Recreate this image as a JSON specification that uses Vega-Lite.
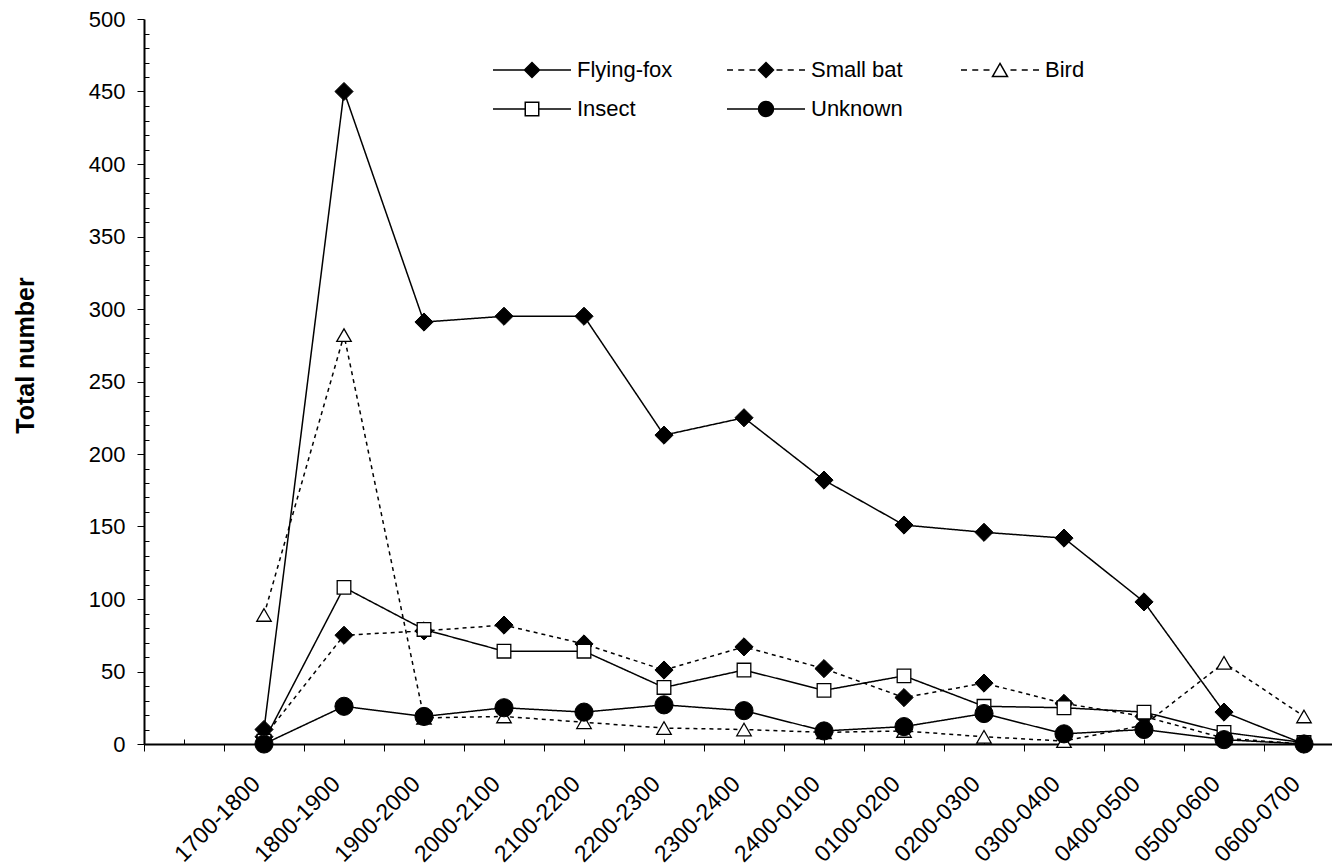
{
  "$schema": "https://vega.github.io/schema/vega-lite/v6.json",
  "width": 1188,
  "height": 725,
  "autosize": {"type": "none"},
  "padding": {"left": 144, "top": 19, "right": 0, "bottom": 124},
  "background": "white",
  "config": {
    "font": "Liberation Sans",
    "view": {"stroke": null},
    "axis": {"labelFont": "Liberation Sans", "titleFont": "Liberation Sans", "labelColor": "black", "titleColor": "black", "tickColor": "black", "domainColor": "black", "grid": false}
  },
  "data": {
    "values": [
      {"t": "1700-1800", "s": "Flying-fox", "n": 10},
      {"t": "1800-1900", "s": "Flying-fox", "n": 450},
      {"t": "1900-2000", "s": "Flying-fox", "n": 291},
      {"t": "2000-2100", "s": "Flying-fox", "n": 295},
      {"t": "2100-2200", "s": "Flying-fox", "n": 295},
      {"t": "2200-2300", "s": "Flying-fox", "n": 213},
      {"t": "2300-2400", "s": "Flying-fox", "n": 225},
      {"t": "2400-0100", "s": "Flying-fox", "n": 182},
      {"t": "0100-0200", "s": "Flying-fox", "n": 151},
      {"t": "0200-0300", "s": "Flying-fox", "n": 146},
      {"t": "0300-0400", "s": "Flying-fox", "n": 142},
      {"t": "0400-0500", "s": "Flying-fox", "n": 98},
      {"t": "0500-0600", "s": "Flying-fox", "n": 22},
      {"t": "0600-0700", "s": "Flying-fox", "n": 0},
      {"t": "1700-1800", "s": "Small bat", "n": 5},
      {"t": "1800-1900", "s": "Small bat", "n": 75},
      {"t": "1900-2000", "s": "Small bat", "n": 78},
      {"t": "2000-2100", "s": "Small bat", "n": 82},
      {"t": "2100-2200", "s": "Small bat", "n": 69},
      {"t": "2200-2300", "s": "Small bat", "n": 51},
      {"t": "2300-2400", "s": "Small bat", "n": 67},
      {"t": "2400-0100", "s": "Small bat", "n": 52},
      {"t": "0100-0200", "s": "Small bat", "n": 32},
      {"t": "0200-0300", "s": "Small bat", "n": 42},
      {"t": "0300-0400", "s": "Small bat", "n": 28},
      {"t": "0400-0500", "s": "Small bat", "n": 19},
      {"t": "0500-0600", "s": "Small bat", "n": 4},
      {"t": "0600-0700", "s": "Small bat", "n": 0},
      {"t": "1700-1800", "s": "Bird", "n": 89},
      {"t": "1800-1900", "s": "Bird", "n": 282},
      {"t": "1900-2000", "s": "Bird", "n": 18},
      {"t": "2000-2100", "s": "Bird", "n": 19},
      {"t": "2100-2200", "s": "Bird", "n": 15},
      {"t": "2200-2300", "s": "Bird", "n": 11},
      {"t": "2300-2400", "s": "Bird", "n": 10},
      {"t": "2400-0100", "s": "Bird", "n": 8},
      {"t": "0100-0200", "s": "Bird", "n": 9},
      {"t": "0200-0300", "s": "Bird", "n": 5},
      {"t": "0300-0400", "s": "Bird", "n": 2},
      {"t": "0400-0500", "s": "Bird", "n": 13},
      {"t": "0500-0600", "s": "Bird", "n": 56},
      {"t": "0600-0700", "s": "Bird", "n": 19},
      {"t": "1700-1800", "s": "Insect", "n": 2},
      {"t": "1800-1900", "s": "Insect", "n": 108},
      {"t": "1900-2000", "s": "Insect", "n": 79},
      {"t": "2000-2100", "s": "Insect", "n": 64},
      {"t": "2100-2200", "s": "Insect", "n": 64},
      {"t": "2200-2300", "s": "Insect", "n": 39},
      {"t": "2300-2400", "s": "Insect", "n": 51},
      {"t": "2400-0100", "s": "Insect", "n": 37},
      {"t": "0100-0200", "s": "Insect", "n": 47},
      {"t": "0200-0300", "s": "Insect", "n": 26},
      {"t": "0300-0400", "s": "Insect", "n": 25},
      {"t": "0400-0500", "s": "Insect", "n": 22},
      {"t": "0500-0600", "s": "Insect", "n": 8},
      {"t": "0600-0700", "s": "Insect", "n": 1},
      {"t": "1700-1800", "s": "Unknown", "n": 0},
      {"t": "1800-1900", "s": "Unknown", "n": 26},
      {"t": "1900-2000", "s": "Unknown", "n": 19},
      {"t": "2000-2100", "s": "Unknown", "n": 25},
      {"t": "2100-2200", "s": "Unknown", "n": 22},
      {"t": "2200-2300", "s": "Unknown", "n": 27},
      {"t": "2300-2400", "s": "Unknown", "n": 23},
      {"t": "2400-0100", "s": "Unknown", "n": 9},
      {"t": "0100-0200", "s": "Unknown", "n": 12},
      {"t": "0200-0300", "s": "Unknown", "n": 21},
      {"t": "0300-0400", "s": "Unknown", "n": 7},
      {"t": "0400-0500", "s": "Unknown", "n": 10},
      {"t": "0500-0600", "s": "Unknown", "n": 3},
      {"t": "0600-0700", "s": "Unknown", "n": 0}
    ]
  },
  "layer": [
    {
      "mark": {"type": "line", "color": "black", "strokeWidth": 1.5},
      "encoding": {
        "x": {
          "field": "t", "type": "nominal", "sort": null,
          "scale": {"type": "band", "domain": ["", "1700-1800", "1800-1900", "1900-2000", "2000-2100", "2100-2200", "2200-2300", "2300-2400", "2400-0100", "0100-0200", "0200-0300", "0300-0400", "0400-0500", "0500-0600", "0600-0700"], "range": [0, 1200], "paddingInner": 0, "paddingOuter": 0},
          "axis": {"title": null, "orient": "bottom", "tickBand": "extent", "tickSize": 7, "tickWidth": 1, "domainWidth": 2, "labelAngle": -45, "labelAlign": "right", "labelBaseline": "middle", "labelPadding": 29, "labelOffset": -8, "labelFontSize": 23, "labelOverlap": false, "labelBound": false, "labelFlush": false}
        },
        "y": {
          "field": "n", "type": "quantitative",
          "scale": {"domain": [0, 500], "nice": false, "zero": true},
          "axis": {"orient": "left", "values": [0, 50, 100, 150, 200, 250, 300, 350, 400, 450, 500], "tickSize": 7, "tickWidth": 1, "domainWidth": 2, "labelPadding": 12, "labelFontSize": 22, "labelOverlap": false, "labelBound": false, "labelFlush": false, "title": "Total number", "titleFontSize": 25, "titleFontWeight": "bold", "titleAngle": -90, "titleBaseline": "alphabetic", "titleAlign": "center", "titleX": -111, "titleY": 336}
        },
        "strokeDash": {
          "field": "s", "type": "nominal", "legend": null,
          "scale": {"range": [[4, 4], [1, 0], [1, 0], [4, 4], [1, 0]]}
        },
        "order": {"value": null}
      }
    },
    {
      "transform": [{"filter": {"field": "n", "lt": 0}}],
      "mark": {"type": "point", "filled": true, "strokeWidth": 1.5},
      "encoding": {
        "x": {"field": "t", "type": "nominal", "sort": null, "axis": null},
        "y": {"field": "n", "type": "quantitative", "axis": null},
        "shape": {
          "field": "s", "type": "nominal",
          "scale": {"domain": ["Flying-fox", "Small bat", "Bird", "Insect", "Unknown"], "range": ["M-5.2,0H5.2M0,-1L1,0L0,1L-1,0Z", "M-5.2,0H-4.4M-3.7,0H-2.9M-2.2,0H-1.4M1.4,0H2.2M2.9,0H3.7M4.4,0H5.2M0,-1L1,0L0,1L-1,0Z", "M-5.2,0H-4.4M-3.7,0H-2.9M-2.2,0H-1.4M1.4,0H2.2M2.9,0H3.7M4.4,0H5.2M0,-0.87L1,0.87L-1,0.87Z", "M-5.2,0H-0.9M0.9,0H5.2M-0.9,-0.9H0.9V0.9H-0.9Z", "M-5.2,0H5.2M1,0A1,1,0,1,1,-1,0A1,1,0,1,1,1,0Z"]},
          "legend": {
            "title": null, "orient": "none", "legendX": 377, "legendY": 40,
            "columns": 3, "direction": "horizontal", "gridAlign": "all", "columnPadding": 51, "rowPadding": 17,
            "symbolSize": 225, "symbolOpacity": 1, "symbolStrokeColor": "black", "symbolStrokeWidth": 1.5,
            "labelOffset": 34, "labelFontSize": 22, "labelFont": "Liberation Sans", "labelColor": "black", "labelLimit": 300
          }
        },
        "fill": {
          "field": "s", "type": "nominal",
          "scale": {"domain": ["Flying-fox", "Small bat", "Bird", "Insect", "Unknown"], "range": ["black", "black", "white", "white", "black"]},
          "legend": {
            "title": null, "orient": "none", "legendX": 377, "legendY": 40,
            "columns": 3, "direction": "horizontal", "gridAlign": "all", "columnPadding": 51, "rowPadding": 17,
            "symbolSize": 225, "symbolOpacity": 1, "symbolStrokeColor": "black", "symbolStrokeWidth": 1.5,
            "labelOffset": 34, "labelFontSize": 22, "labelFont": "Liberation Sans", "labelColor": "black", "labelLimit": 300
          }
        },
        "stroke": {
          "field": "s", "type": "nominal",
          "scale": {"domain": ["Flying-fox", "Small bat", "Bird", "Insect", "Unknown"], "range": ["black", "black", "black", "black", "black"]},
          "legend": {
            "title": null, "orient": "none", "legendX": 377, "legendY": 40,
            "columns": 3, "direction": "horizontal", "gridAlign": "all", "columnPadding": 51, "rowPadding": 17,
            "symbolSize": 225, "symbolOpacity": 1, "symbolStrokeColor": "black", "symbolStrokeWidth": 1.5,
            "labelOffset": 34, "labelFontSize": 22, "labelFont": "Liberation Sans", "labelColor": "black", "labelLimit": 300
          }
        }
      }
    },
    {
      "transform": [{"filter": {"field": "s", "equal": "Flying-fox"}}],
      "mark": {"type": "point", "shape": "diamond", "filled": true, "fill": "black", "stroke": "black", "strokeWidth": 1, "size": 330, "opacity": 1},
      "encoding": {
        "x": {
          "field": "t", "type": "nominal", "sort": null,
          "scale": {"type": "band", "domain": ["", "1700-1800", "1800-1900", "1900-2000", "2000-2100", "2100-2200", "2200-2300", "2300-2400", "2400-0100", "0100-0200", "0200-0300", "0300-0400", "0400-0500", "0500-0600", "0600-0700"], "range": [0, 1200], "paddingInner": 0, "paddingOuter": 0},
          "axis": {"title": null, "orient": "bottom", "domain": false, "labels": false, "tickSize": -5, "tickWidth": 1}
        },
        "y": {
          "field": "n", "type": "quantitative",
          "scale": {"domain": [0, 500], "nice": false, "zero": true},
          "axis": {"orient": "left", "title": null, "domain": false, "labels": false, "tickSize": -5, "tickWidth": 1, "values": [10, 20, 30, 40, 60, 70, 80, 90, 110, 120, 130, 140, 160, 170, 180, 190, 210, 220, 230, 240, 260, 270, 280, 290, 310, 320, 330, 340, 360, 370, 380, 390, 410, 420, 430, 440, 460, 470, 480, 490]}
        }
      }
    },
    {
      "transform": [{"filter": {"field": "s", "equal": "Small bat"}}],
      "mark": {"type": "point", "shape": "diamond", "filled": true, "fill": "black", "stroke": "black", "strokeWidth": 1, "size": 330, "opacity": 1},
      "encoding": {
        "x": {"field": "t", "type": "nominal", "sort": null, "axis": null},
        "y": {"field": "n", "type": "quantitative", "axis": null}
      }
    },
    {
      "transform": [{"filter": {"field": "s", "equal": "Bird"}}],
      "mark": {"type": "point", "shape": "triangle-up", "filled": true, "fill": "white", "stroke": "black", "strokeWidth": 1.3, "size": 210, "opacity": 1},
      "encoding": {
        "x": {"field": "t", "type": "nominal", "sort": null, "axis": null},
        "y": {"field": "n", "type": "quantitative", "axis": null}
      }
    },
    {
      "transform": [{"filter": {"field": "s", "equal": "Insect"}}],
      "mark": {"type": "point", "shape": "square", "filled": true, "fill": "white", "stroke": "black", "strokeWidth": 1.3, "size": 185, "opacity": 1},
      "encoding": {
        "x": {"field": "t", "type": "nominal", "sort": null, "axis": null},
        "y": {"field": "n", "type": "quantitative", "axis": null}
      }
    },
    {
      "transform": [{"filter": {"field": "s", "equal": "Unknown"}}],
      "mark": {"type": "point", "shape": "circle", "filled": true, "fill": "black", "stroke": "black", "strokeWidth": 1, "size": 330, "opacity": 1},
      "encoding": {
        "x": {"field": "t", "type": "nominal", "sort": null, "axis": null},
        "y": {"field": "n", "type": "quantitative", "axis": null}
      }
    }
  ],
  "resolve": {"axis": {"x": "independent", "y": "independent"}}
}
